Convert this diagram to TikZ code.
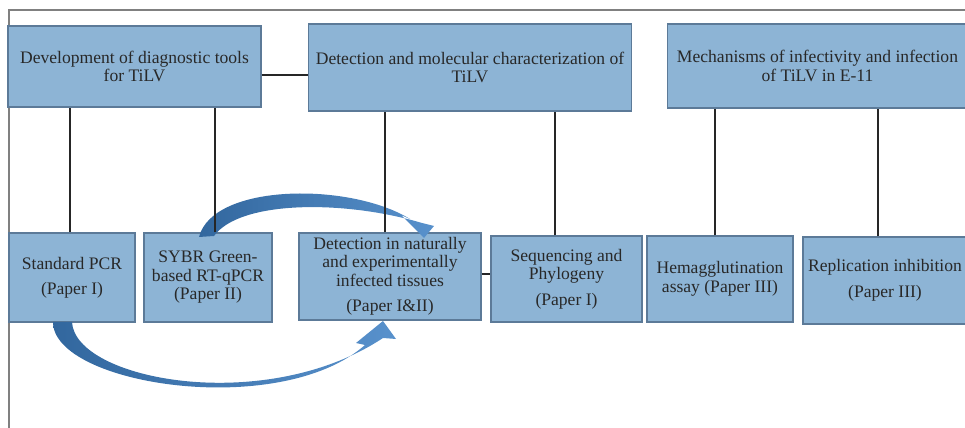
\documentclass[tikz,border=0pt]{standalone}
\usepackage{fontspec}
\setmainfont{Liberation Serif}
\definecolor{boxfill}{RGB}{141,180,213}
\definecolor{boxline}{RGB}{92,122,152}
\definecolor{arrdark}{RGB}{50,103,158}
\definecolor{arrlight}{RGB}{88,145,204}
\definecolor{txt}{RGB}{40,40,40}
\tikzset{
  box/.style={draw=boxline, fill=boxfill, line width=0.6pt, align=center, text=txt,
    font=\fontsize{10pt}{10.5pt}\selectfont, inner sep=0pt},
  link/.style={draw=black!85, line width=0.85pt},
  frameline/.style={draw=black!50, line width=0.85pt},
  blockarrow/.style={left color=arrdark, right color=arrlight, draw=none}
}
\begin{document}
\begin{tikzpicture}[x=0.02cm,y=-0.02cm]
\useasboundingbox (0,0) rectangle (965,428);
\clip (0,0) rectangle (965,428);
% frame
\coordinate (fbl) at (9,428);
\coordinate (ftl) at (9,10);
\coordinate (ftr) at (966,10);
\draw[frameline] (fbl) -- (ftl) -- (ftr);
% top boxes
\node[box, minimum width=5.06cm, minimum height=1.62cm] (dev) at (134.5,66.5) {Development of diagnostic tools\\for TiLV};
\node[box, minimum width=6.48cm, minimum height=1.74cm] (det) at (470,67.5) {Detection and molecular characterization of\\TiLV};
\node[box, minimum width=6.02cm, minimum height=1.68cm] (mech) at (817.5,66) {Mechanisms of infectivity and infection\\of TiLV in E-11};
% bottom boxes
\node[box, minimum width=2.52cm, minimum height=1.78cm] (pcr) at (72,277.5) {Standard PCR\\[3.5pt](Paper I)};
\node[box, minimum width=2.56cm, minimum height=1.78cm] (sybr) at (208,277.5) {SYBR Green-\\based RT-qPCR\\(Paper II)};
\node[box, minimum width=3.64cm, minimum height=1.74cm] (tis) at (390,276.5) {Detection in naturally\\and experimentally\\infected tissues\\[4pt](Paper I\&II)};
\node[box, minimum width=3.02cm, minimum height=1.72cm] (seq) at (566.5,279) {Sequencing and\\Phylogeny\\[4pt](Paper I)};
\node[box, minimum width=2.92cm, minimum height=1.72cm] (hem) at (720,279) {Hemagglutination\\assay (Paper III)};
\node[box, minimum width=3.28cm, minimum height=1.74cm] (rep) at (885,280.5) {Replication inhibition\\[4pt](Paper III)};
% curved block arrows
\shade[blockarrow] (199,237) .. controls (213,183) and (350,182) .. (410,219)
  -- (401,215) -- (424,238) -- (434,226) -- (422,223)
  .. controls (345,200) and (240,200) .. (214,236) -- cycle;
\shade[blockarrow] (53,322) .. controls (53,385) and (280,420) .. (365,345)
  -- (356,343) -- (383,321) -- (396,339) -- (383,338)
  .. controls (265,416) and (75,380) .. (72,322) -- cycle;
% connectors
\draw[link] ([yshift=-0.17cm]dev.east) -- ([yshift=-0.17cm]dev.east -| det.west);
\draw[link] ([yshift=0.05cm]tis.east) -- ([yshift=0.05cm]tis.east -| seq.west);
\draw[link] ([xshift=-0.04cm]pcr.north) -- ([xshift=-0.04cm]pcr.north |- dev.south);
\draw[link] ([xshift=0.14cm]sybr.north) -- ([xshift=0.14cm]sybr.north |- dev.south);
\draw[link] ([xshift=-0.10cm]tis.north) -- ([xshift=-0.10cm]tis.north |- det.south);
\draw[link] ([xshift=-0.23cm]seq.north) -- ([xshift=-0.23cm]seq.north |- det.south);
\draw[link] ([xshift=-0.10cm]hem.north) -- ([xshift=-0.10cm]hem.north |- mech.south);
\draw[link] ([xshift=-0.14cm]rep.north) -- ([xshift=-0.14cm]rep.north |- mech.south);
\end{tikzpicture}
\end{document}
